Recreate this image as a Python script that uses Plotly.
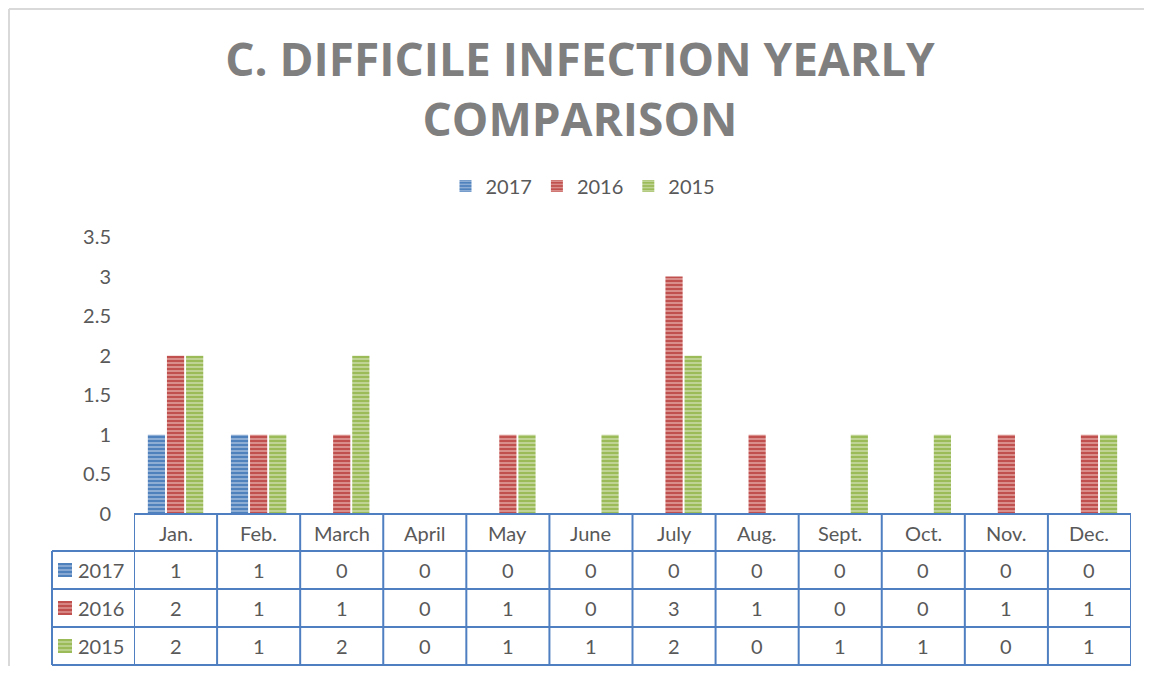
import plotly.graph_objects as go

months = ["Jan.", "Feb.", "March", "April", "May", "June", "July", "Aug.", "Sept.", "Oct.", "Nov.", "Dec."]
series_names = ["2017", "2016", "2015"]
v2017 = [1, 1, 0, 0, 0, 0, 0, 0, 0, 0, 0, 0]
v2016 = [2, 1, 1, 0, 1, 0, 3, 1, 0, 0, 1, 1]
v2015 = [2, 1, 2, 0, 1, 1, 2, 0, 1, 1, 0, 1]
y_ticks = [0, 0.5, 1, 1.5, 2, 2.5, 3, 3.5]

colors = ["#4F81BD", "#C0504D", "#9BBB59"]
light = ["#A9C1E0", "#E4A9A7", "#CFDFAE"]
values = [v2017, v2016, v2015]

# page body has an 8px margin; lay out in screen coords and compensate
OFF = 8
SW, SH = 1153, 675
W, H = SW - 2 * OFF, SH - 2 * OFF
L, R, T, B = 134, 1131, 237, 514   # plot area in screen pixels
FONT = "Lato"
TXT = "#595959"
LINE = "#4F7FC0"
FS = 20


def py(p):
    return (B - p) / (B - T)


def px(p):
    return (p - L) / (R - L)


fig = go.Figure()
x_idx = list(range(len(months)))
for name, vals, c, lc in zip(series_names, values, colors, light):
    fig.add_trace(go.Bar(
        x=x_idx, y=vals, name=name,
        marker=dict(color=c, line=dict(width=0),
                    pattern=dict(shape="-", fillmode="replace", bgcolor=c, fgcolor=lc,
                                 size=4, solidity=0.35)),
    ))

shapes = []
# chart border (top and left edges; the rest lies outside the picture)
shapes.append(dict(type="line", xref="paper", yref="paper", x0=px(9), x1=px(1144), y0=py(9), y1=py(9),
                   line=dict(color="#D9D9D9", width=2), layer="below"))
shapes.append(dict(type="line", xref="paper", yref="paper", x0=px(9), x1=px(9), y0=py(9), y1=py(666),
                   line=dict(color="#D9D9D9", width=2), layer="below"))
# table lines
row_ys = [514, 551, 589, 627, 665]
n = len(months)
shapes.append(dict(type="line", xref="x", yref="paper", x0=-0.5, x1=n - 0.5, y0=py(514), y1=py(514),
                   line=dict(color=LINE, width=2)))
for yy in row_ys[1:]:
    shapes.append(dict(type="line", xref="paper", yref="paper", x0=px(52), x1=1, y0=py(yy), y1=py(yy),
                       line=dict(color=LINE, width=2)))
for i in range(n + 1):
    shapes.append(dict(type="line", xref="x", yref="paper", x0=i - 0.5, x1=i - 0.5, y0=py(514), y1=py(665),
                       line=dict(color=LINE, width=2)))
shapes.append(dict(type="line", xref="paper", yref="paper", x0=px(52), x1=px(52), y0=py(551), y1=py(665),
                   line=dict(color=LINE, width=2)))

annotations = []
for i, m in enumerate(months):
    annotations.append(dict(x=i, y=py(533), xref="x", yref="paper", text=m, showarrow=False,
                            xanchor="center", yanchor="middle",
                            font=dict(family=FONT, size=FS, color=TXT)))
row_centers = [570, 608, 646]
for r, (name, vals, c, lc) in enumerate(zip(series_names, values, colors, light)):
    yc = row_centers[r]
    shapes.append(dict(type="rect", xref="paper", yref="paper", x0=px(58), x1=px(72),
                       y0=py(yc + 7), y1=py(yc - 7), fillcolor=c, line=dict(width=0)))
    for k in range(3):
        ys = yc - 7 + 3 + k * 4
        shapes.append(dict(type="line", xref="paper", yref="paper", x0=px(58), x1=px(72),
                           y0=py(ys), y1=py(ys), line=dict(color=lc, width=1.2)))
    annotations.append(dict(x=px(76), y=py(yc), xref="paper", yref="paper", text=name, showarrow=False,
                            xanchor="left", yanchor="middle", font=dict(family=FONT, size=FS, color=TXT)))
    for i, v in enumerate(vals):
        annotations.append(dict(x=i, y=py(yc), xref="x", yref="paper", text=str(v), showarrow=False,
                                xanchor="center", yanchor="middle",
                                font=dict(family=FONT, size=FS, color=TXT)))

fig.update_layout(
    width=W, height=H,
    margin=dict(l=L - OFF, r=W - (R - OFF), t=T - OFF, b=H - (B - OFF), pad=0),
    paper_bgcolor="white", plot_bgcolor="white",
    barmode="group", bargap=0.31, bargroupgap=0.1,
    title=dict(text="<b>C. DIFFICILE INFECTION YEARLY<br>COMPARISON</b>", x=(580 - OFF) / W, xanchor="center",
               y=1 - (76 - OFF) / H, yanchor="middle",
               font=dict(family="Open Sans", size=46, color="#7F7F7F")),
    legend=dict(orientation="h", x=px(583), xanchor="center", y=py(186), yanchor="middle",
                font=dict(family=FONT, size=FS, color=TXT), itemwidth=30, traceorder="normal"),
    xaxis=dict(range=[-0.5, n - 0.5], showticklabels=False, showgrid=False, zeroline=False, showline=False,
               ticks=""),
    yaxis=dict(range=[0, 3.5], tickvals=y_ticks, ticktext=[f"{t:g}" for t in y_ticks], showgrid=False,
               zeroline=False, showline=False, ticks="", ticklabelstandoff=22,
               tickfont=dict(family=FONT, size=FS, color=TXT)),
    shapes=shapes, annotations=annotations,
)

fig.write_html("out.html")
